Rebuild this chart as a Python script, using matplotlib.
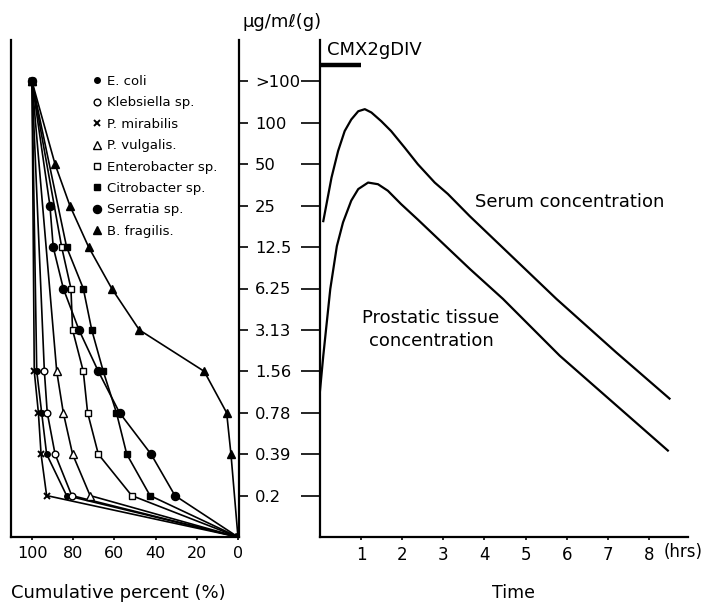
import numpy as np
import matplotlib
matplotlib.use("Agg")
import matplotlib.pyplot as plt
from matplotlib.lines import Line2D

plt.rcParams["font.family"] = ["DejaVu Sans"]

# MIC ladder (top to bottom), drawn at positions 11..1; 0 is the bottom corner
levels = [">100", "100", "50", "25", "12.5", "6.25", "3.13", "1.56", "0.78", "0.39", "0.2"]

organisms = ["E. coli", "Klebsiella sp.", "P. mirabilis", "P. vulgalis.",
             "Enterobacter sp.", "Citrobacter sp.", "Serratia sp.", "B. fragilis."]

# cumulative percent at each MIC level (>100 ... 0.2); nan = no point plotted
nan = np.nan
ecoli = [100, nan, nan, nan, nan, nan, nan, 97.7, 95.3, 92.9, 83.2]
klebsiella = [100, nan, nan, nan, nan, nan, nan, 94.0, 92.6, 88.8, 80.7]
mirabilis = [100, nan, nan, nan, nan, nan, nan, 98.9, 96.9, 95.6, 92.9]
vulgaris = [100, nan, nan, nan, nan, nan, nan, 88.0, 84.8, 80.3, 71.8]
enterobacter = [100, nan, nan, nan, 85.6, 81.1, 80.3, 75.1, 73.0, 67.8, 51.6]
citrobacter = [100, nan, nan, nan, 83.2, 75.1, 71.0, 65.4, 59.0, 54.0, 42.7]
serratia = [100, nan, nan, 91.3, 89.7, 84.8, 77.2, 67.8, 57.5, 42.2, 30.6]
fragilis = [100, nan, 88.8, 81.6, 72.5, 61.3, 47.9, 16.4, 5.5, 3.4, nan]

series = [ecoli, klebsiella, mirabilis, vulgaris, enterobacter, citrobacter, serratia, fragilis]
styles = [
    dict(marker="o", ms=4.0, mfc="black"),
    dict(marker="o", ms=4.8, mfc="white"),
    dict(marker="x", ms=4.8, mew=1.4),
    dict(marker="^", ms=5.2, mfc="white"),
    dict(marker="s", ms=4.8, mfc="white"),
    dict(marker="s", ms=4.8, mfc="black"),
    dict(marker="o", ms=5.8, mfc="black"),
    dict(marker="^", ms=5.2, mfc="black"),
]

# CMX 2g DIV: serum / prostatic tissue concentrations (ug/ml or ug/g)
serum_t = [0.08, 0.28, 0.44, 0.60, 0.76, 0.93, 1.09, 1.25, 1.49, 1.73, 2.06, 2.38, 2.79,
           3.11, 3.64, 5.75, 7.2, 8.5]
serum_c = [19.3, 40.0, 62.4, 87.1, 105.7, 121.4, 125.7, 118.9, 102.8, 87.1, 66.0, 50.0, 36.8,
           30.4, 21.0, 5.25, 2.15, 0.99]
tissue_t = [0.0, 0.08, 0.25, 0.41, 0.56, 0.76, 0.93, 1.17, 1.41, 1.65, 1.97, 2.38, 3.0, 3.65,
            4.45, 5.83, 8.46]
tissue_c = [1.13, 2.03, 6.2, 12.7, 18.9, 27.2, 33.0, 36.8, 35.8, 32.1, 25.7, 19.8, 13.2, 8.64,
            5.25, 2.03, 0.415]
infusion = (0, 1)
hours = [1, 2, 3, 4, 5, 6, 7, 8]


def conc_to_pos(c):
    # 100 ug/ml sits on level 10, each two-fold dilution is one step
    return 10 + np.log2(np.asarray(c) / 100.0)


level_pos = np.arange(len(levels), 0, -1)

fig = plt.figure(figsize=(7.11, 6.03), dpi=100)
ax1 = fig.add_axes([11 / 711, 1 - 537 / 603, 228 / 711, 497 / 603])
ax2 = fig.add_axes([320 / 711, 1 - 537 / 603, 368 / 711, 497 / 603])

# --- left: cumulative distribution of MIC ---
for vals, st in zip(series, styles):
    v = np.array(vals, dtype=float)
    ok = ~np.isnan(v)
    x = np.append(v[ok], 0)
    y = np.append(level_pos[ok], 0)
    ax1.plot(x, y, color="black", lw=1.2, mec="black", **st)

ax1.set_xlim(110.2, -0.5)
ax1.set_ylim(0, 12)
ax1.spines["top"].set_visible(False)
for s in ax1.spines.values():
    s.set_linewidth(1.6)
ax1.set_xticks([100, 80, 60, 40, 20, 0])
ax1.set_xticklabels(["100", "80", "60", "40", "20", "0"], fontsize=11.5)
ax1.tick_params(axis="x", direction="out", length=2.5, width=1.2, pad=4)
ax1.yaxis.tick_right()
ax1.set_yticks(level_pos)
ax1.set_yticklabels(levels, fontsize=11.8)
ax1.tick_params(axis="y", direction="out", length=6.5, width=1.2, pad=5)

handles = [Line2D([], [], color="black", ls="none", mec="black", **st) for st in styles]
ax1.legend(handles, organisms, loc="upper left", bbox_to_anchor=(0.355, 0.93),
           frameon=False, fontsize=9.5, handlelength=0.7, handletextpad=0.45,
           labelspacing=0.64, borderpad=0, borderaxespad=0)

fig.text(118 / 711, 1 - 593 / 603, "Cumulative percent (%)", ha="center", va="center", fontsize=13)

# --- right: concentration time course ---
ax2.plot(serum_t, conc_to_pos(serum_c), color="black", lw=1.6)
ax2.plot(tissue_t, conc_to_pos(tissue_c), color="black", lw=1.6)
ax2.plot(infusion, [11.4, 11.4], color="black", lw=3.2, solid_capstyle="butt")
ax2.text(0.17, 11.77, "CMX2gDIV", fontsize=13, va="center", ha="left")

ax2.text(3.78, 8.1, "Serum concentration", fontsize=13, ha="left", va="center")
ax2.text(2.7, 5.0, "Prostatic tissue\nconcentration", fontsize=13, ha="center", va="center",
         linespacing=1.35)

ax2.set_xlim(0, 8.95)
ax2.set_ylim(0, 12)
ax2.spines["top"].set_visible(False)
ax2.spines["right"].set_visible(False)
for s in ax2.spines.values():
    s.set_linewidth(1.6)
ax2.set_xticks(hours)
ax2.set_xticklabels([str(h) for h in hours], fontsize=12)
ax2.tick_params(axis="x", direction="out", length=2.5, width=1.2, pad=4)
ax2.set_yticks(level_pos)
ax2.set_yticklabels([])
ax2.tick_params(axis="y", direction="out", length=13.5, width=1.2)
ax2.text(8.35, -0.36, "(hrs)", fontsize=12, ha="left", va="center")

fig.text(513 / 711, 1 - 593 / 603, "Time", ha="center", va="center", fontsize=12.5)
fig.text(282 / 711, 1 - 22 / 603, "μg/mℓ(g)", ha="center", va="center", fontsize=13)

fig.savefig("out.png", dpi=100)
